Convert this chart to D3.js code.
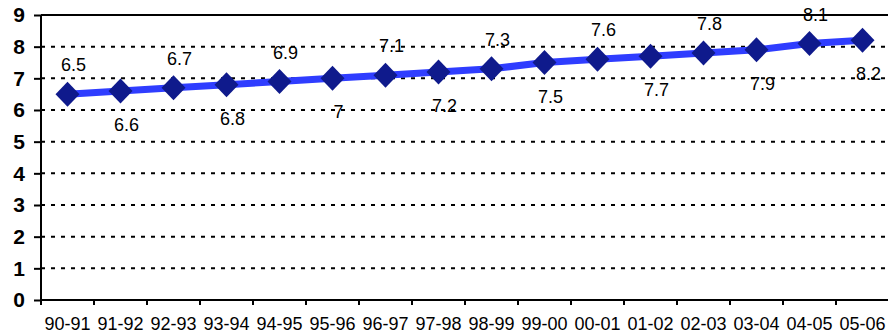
<!DOCTYPE html>
<html><head><meta charset="utf-8">
<script src="https://cdn.jsdelivr.net/npm/d3@7"></script>
<style>body{margin:0;background:#fff}</style>
</head><body>
<svg id="c" width="888" height="335"></svg>
<script>
const categories = ["90-91","91-92","92-93","93-94","94-95","95-96","96-97","97-98","98-99","99-00","00-01","01-02","02-03","03-04","04-05","05-06"];
const values = [6.5,6.6,6.7,6.8,6.9,7,7.1,7.2,7.3,7.5,7.6,7.7,7.8,7.9,8.1,8.2];
const labels = ["6.5","6.6","6.7","6.8","6.9","7","7.1","7.2","7.3","7.5","7.6","7.7","7.8","7.9","8.1","8.2"];
const yTicks = [0,1,2,3,4,5,6,7,8,9];

const FONT = "'Liberation Sans', Arial, sans-serif";
const svg = d3.select("#c");
const L = 41, R = 889, T = 15, B = 300;
const x = d3.scaleBand().domain(categories).range([L, R]);
const y = d3.scaleLinear().domain([0, 9]).range([B, T]);

// gridlines
svg.append("g").selectAll("line").data(yTicks.filter(d => d > 0)).join("line")
  .attr("x1", L).attr("x2", R).attr("y1", d => y(d)).attr("y2", d => y(d))
  .attr("stroke", "#000").attr("stroke-width", 2)
  .attr("stroke-dasharray", d => d === 9 ? null : "4,6");

// y axis
const ya = svg.append("g").attr("transform", `translate(${L},0)`)
  .call(d3.axisLeft(y).tickValues(yTicks).tickSize(7).tickPadding(9).tickFormat(d3.format("d")));
ya.attr("font-size", 21).attr("font-family", FONT).attr("font-weight", "bold");
ya.select(".domain").attr("stroke", "#000").attr("stroke-width", 2).attr("d", `M0,${T}V${B}`);
ya.selectAll(".tick line").attr("stroke-width", 2);
ya.selectAll("text").style("font-size", "21px").style("font-weight", "bold").attr("fill", "#000");

// x axis
const xa = svg.append("g").attr("transform", `translate(0,${B})`)
  .call(d3.axisBottom(x).tickSize(0).tickPadding(17));
xa.attr("font-size", 18).attr("font-family", FONT);
xa.select(".domain").attr("stroke", "#000").attr("stroke-width", 2).attr("d", `M${L},0H${R}`);
xa.selectAll("text").style("font-size", "18px").attr("fill", "#000");
// tick marks at band boundaries
svg.append("g").selectAll("line").data(categories).join("line")
  .attr("x1", d => x(d)).attr("x2", d => x(d)).attr("y1", B).attr("y2", B + 5)
  .attr("stroke", "#000").attr("stroke-width", 2);

const cx = d => x(d) + x.bandwidth() / 2;

// line
const line = d3.line().x((d, i) => cx(categories[i])).y(d => y(d));
svg.append("path").datum(values).attr("d", line)
  .attr("fill", "none").attr("stroke", "#2f3dff").attr("stroke-width", 7).attr("stroke-linejoin", "round");

// markers (diamonds)
const dw = 12, dh = 12.5;
svg.append("g").selectAll("path").data(values).join("path")
  .attr("d", `M0,${-dh}L${dw},0L0,${dh}L${-dw},0Z`)
  .attr("transform", (d, i) => `translate(${cx(categories[i])},${y(d)})`)
  .attr("fill", "#0f1a8c");

// labels
svg.append("g").selectAll("text").data(values).join("text")
  .attr("x", (d, i) => cx(categories[i]) + 6)
  .attr("y", (d, i) => y(d) + (i % 2 === 0 ? -23 : 40))
  .attr("text-anchor", "middle")
  .style("font-family", FONT).style("font-size", "18px").attr("fill", "#000")
  .text((d, i) => labels[i]);
</script>
</body></html>
